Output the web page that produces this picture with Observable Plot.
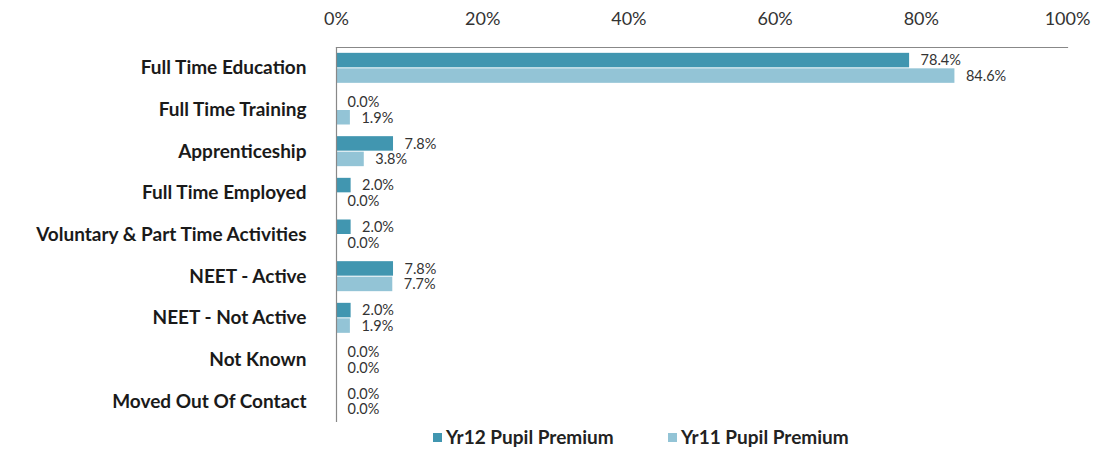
<!DOCTYPE html>
<html>
<head>
<meta charset="utf-8">
<script src="https://cdn.jsdelivr.net/npm/d3@7"></script>
<script src="https://cdn.jsdelivr.net/npm/@observablehq/plot@0.6"></script>
<style>
  body { margin: 0; background: #fff; font-family: Lato, "Open Sans", sans-serif; }
  #legend { position: relative; height: 24px; font: bold 19px Lato, sans-serif; color: #222; }
  .item { position: absolute; top: 0; line-height: 24px; display: flex; align-items: center; }
  .sw { width: 9px; height: 9px; margin-right: 4px; display: inline-block; }
</style>
</head>
<body>
<div id="chart"></div>
<div id="legend"></div>
<script>
const categories = ["Full Time Education", "Full Time Training", "Apprenticeship", "Full Time Employed",
  "Voluntary & Part Time Activities", "NEET - Active", "NEET - Not Active", "Not Known", "Moved Out Of Contact"];
const yr12 = [78.4, 0.0, 7.8, 2.0, 2.0, 7.8, 2.0, 0.0, 0.0];
const yr11 = [84.6, 1.9, 3.8, 0.0, 0.0, 7.7, 1.9, 0.0, 0.0];
const seriesNames = ["Yr12 Pupil Premium", "Yr11 Pupil Premium"];
const colors = ["#4196b0", "#93c4d6"];
const xTicks = [0, 0.2, 0.4, 0.6, 0.8, 1.0];

const d12 = categories.map((c, i) => ({cat: c, v: yr12[i] / 100}));
const d11 = categories.map((c, i) => ({cat: c, v: yr11[i] / 100}));

const chart = Plot.plot({
  width: 1097,
  height: 425,
  marginTop: 47,
  marginLeft: 336,
  marginRight: 30,
  marginBottom: 3,
  style: {fontFamily: "Lato, sans-serif", background: "#fff"},
  x: {domain: [0, 1], ticks: xTicks, tickFormat: d3.format(".0%"), label: null},
  y: {domain: categories, paddingInner: 0.28, paddingOuter: 0.14, round: false, label: null},
  marks: [
    Plot.barX(d12, {x: "v", y: "cat", fill: colors[0], insetBottom: 15.5, insetTop: 0}),
    Plot.barX(d11, {x: "v", y: "cat", fill: colors[1], insetTop: 15.5, insetBottom: 0}),
    Plot.text(d12, {x: "v", y: "cat", text: d => d3.format(".1f")(d.v * 100) + "%", dx: 11, dy: -7.5,
      textAnchor: "start", fontSize: 14.5, fill: "#333"}),
    Plot.text(d11, {x: "v", y: "cat", text: d => d3.format(".1f")(d.v * 100) + "%", dx: 11, dy: 8,
      textAnchor: "start", fontSize: 14.5, fill: "#333"}),
    Plot.axisX({anchor: "top", ticks: xTicks, tickFormat: d3.format(".0%"), tickSize: 0, tickPadding: 23,
      fontSize: 18, fill: "#333", label: null}),
    Plot.axisY({anchor: "left", tickSize: 0, tickPadding: 30, fontSize: 19, fontWeight: "bold", fill: "#1a1a1a", label: null}),
    Plot.ruleX([0], {stroke: "#888", strokeWidth: 1.2}),
    Plot.frame({anchor: "top", stroke: "#888", strokeWidth: 1.2})
  ]
});
document.getElementById("chart").appendChild(chart);

const legend = document.getElementById("legend");
const lefts = [433, 668];
seriesNames.forEach((name, i) => {
  const it = document.createElement("div");
  it.className = "item";
  it.style.left = lefts[i] + "px";
  it.innerHTML = `<span class="sw" style="background:${colors[i]}"></span>${name}`;
  legend.appendChild(it);
});
</script>
</body>
</html>
